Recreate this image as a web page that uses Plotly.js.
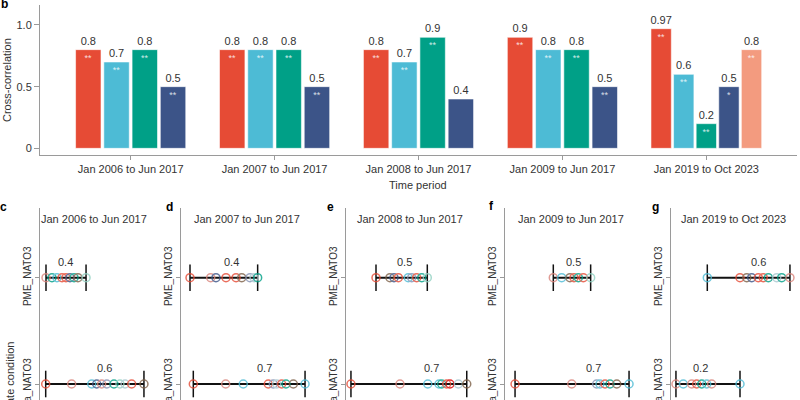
<!DOCTYPE html>
<html><head><meta charset="utf-8">
<script src="https://cdn.plot.ly/plotly-3.0.1.min.js"></script>
<style>html,body{margin:0;padding:0;background:#fff}#chart{width:800px;height:400px}</style>
</head><body><div id="chart"></div>
<script>
// ---------- Panel b: cross-correlation bars ----------
const periods = ['Jan 2006 to Jun 2017','Jan 2007 to Jun 2017','Jan 2008 to Jun 2017','Jan 2009 to Jun 2017','Jan 2019 to Oct 2023'];
const seriesNames = ['Series 1','Series 2','Series 3','Series 4','Series 5'];
const seriesColors = ['#E64B35','#4DBBD5','#00A087','#3C5488','#F39B7F'];
const redVals    = [0.8, 0.8, 0.8, 0.9, 0.97];
const cyanVals   = [0.7, 0.8, 0.7, 0.8, 0.6];
const greenVals  = [0.8, 0.8, 0.9, 0.8, 0.2];
const navyVals   = [0.5, 0.5, 0.4, 0.5, 0.5];
const salmonVals = [null, null, null, null, 0.8];
const redSig    = ['**','**','**','**','**'];
const cyanSig   = ['**','**','**','**','**'];
const greenSig  = ['**','**','**','**','**'];
const navySig   = ['**','**','','**','*'];
const salmonSig = ['','','','','**'];
const yTickVals = [0, 0.5, 1];
const yTickText = ['0', '0.5', '1.0'];

// ---------- Panels c-g: per-member correlations ----------
const panelTitles = ['Jan 2006 to Jun 2017','Jan 2007 to Jun 2017','Jan 2008 to Jun 2017','Jan 2009 to Jun 2017','Jan 2019 to Oct 2023'];
const panelLetters = ['c','d','e','f','g'];
const rowNames = ['Ta_NATO3', 'PME_NATO3'];
const pmeValues = [
  [0.04, 0.08, 0.113, 0.147, 0.173, 0.2, 0.227, 0.253, 0.307],
  [0.062, 0.2, 0.235, 0.302, 0.369, 0.407, 0.462, 0.489, 0.513],
  [0.2, 0.293, 0.32, 0.349, 0.415, 0.438, 0.471, 0.505, 0.542],
  [0.322, 0.378, 0.433, 0.46, 0.489, 0.522, 0.571],
  [0.244, 0.462, 0.507, 0.54, 0.584, 0.617, 0.651, 0.707, 0.74, 0.795]
];
const pmeColors = [
  ['S','T','C','R','R','B','T','N','L'],
  ['R','S','B','R','R','N','G','W','T'],
  ['R','N','B','R','C','G','R','T','L'],
  ['S','C','N','R','T','R','L'],
  ['C','R','N','B','R','R','T','W','T','S']
];
const taValues = [
  [0.038, 0.211, 0.345, 0.378, 0.411, 0.445, 0.493, 0.533, 0.567, 0.611, 0.693],
  [0.084, 0.3, 0.417, 0.584, 0.617, 0.64, 0.673, 0.702, 0.751, 0.829],
  [0.033, 0.36, 0.545, 0.62, 0.638, 0.671, 0.693, 0.749, 0.805],
  [0.067, 0.445, 0.611, 0.633, 0.667, 0.7, 0.745, 0.827],
  [0.035, 0.084, 0.14, 0.173, 0.207, 0.24, 0.273, 0.462]
];
const taColors = [
  ['R','S','C','B','S','G','T','L','W','R','N'],
  ['R','S','C','R','G','W','R','T','N','C'],
  ['R','S','C','C','T','R','D','W','N'],
  ['R','S','G','C','R','T','N','C'],
  ['S','C','S','R','T','C','S','C']
];
const pmeLabels = ['0.4','0.4','0.5','0.5','0.6'];
const taLabels  = ['0.6','0.7','0.7','0.7','0.2'];

const palette = {R:'#E64B35', S:'#D9837A', C:'#4DBBD5', T:'#00A087', B:'#3C5488',
                 G:'#8491B4', L:'#91D1C2', N:'#7E6148', D:'#DC0000', W:'#A8C8D0'};

const FONT = 'Liberation Sans, Arial, Helvetica, sans-serif';
const TXT = '#333333';
const AXC = '#9a9a9a';
const W = 800, H = 400;
const px = v => v / W;
const py = v => 1 - v / H;

const traces = [];
const barSeries = [redVals, cyanVals, greenVals, navyVals, salmonVals];
const barSig = [redSig, cyanSig, greenSig, navySig, salmonSig];

barSeries.forEach((vals, s) => {
  ['x', 'x2'].forEach(ax => {
    const y = vals.map((v, i) => ((ax === 'x' ? i < 4 : i === 4) ? v : null));
    if (y.every(v => v === null)) return;
    const sig = barSig[s].map((t, i) => (y[i] === null ? '' : t));
    traces.push({
      type: 'bar', name: seriesNames[s], x: periods, y: y, xaxis: ax, yaxis: 'y',
      offsetgroup: 'g' + s,
      marker: {color: seriesColors[s], line: {color: 'rgba(255,255,255,0.7)', width: 0.8}},
      text: y.map(v => (v === null ? '' : String(v))),
      textposition: 'outside', cliponaxis: false, constraintext: 'none',
      textfont: {size: 11, color: TXT, family: FONT},
      hoverinfo: 'skip', showlegend: false
    });
    traces.push({
      type: 'bar', name: seriesNames[s] + ' significance', x: periods, y: y, xaxis: ax, yaxis: 'y',
      offsetgroup: 'g' + s,
      marker: {color: 'rgba(0,0,0,0)', line: {width: 0}},
      text: sig, textposition: 'inside', insidetextanchor: 'end', constraintext: 'none',
      textfont: {size: 9, color: 'rgba(255,255,255,0.8)', family: FONT},
      hoverinfo: 'skip', showlegend: false
    });
  });
});

const layout = {
  width: W, height: H,
  margin: {l: 0, r: 0, t: 0, b: 0},
  paper_bgcolor: '#fff', plot_bgcolor: '#fff',
  font: {family: FONT, color: TXT, size: 11},
  barmode: 'group', bargap: 0.215, bargroupgap: 0.1,
  showlegend: false,
  xaxis: {domain: [px(40), px(797)], type: 'category', categoryorder: 'array', categoryarray: periods,
          range: [-0.63, 4.63], anchor: 'y', showline: true, linecolor: AXC, linewidth: 1,
          ticks: 'outside', ticklen: 4, tickcolor: AXC, tickfont: {size: 11, color: TXT},
          showgrid: false, zeroline: false, fixedrange: true},
  xaxis2: {domain: [px(40), px(797)], type: 'category', categoryorder: 'array', categoryarray: periods,
           range: [-0.63, 4.63], overlaying: 'x', anchor: 'y', visible: false, fixedrange: true},
  yaxis: {domain: [py(155), py(5)], range: [-0.054, 1.162], anchor: 'x', showline: true,
          linecolor: AXC, linewidth: 1, ticks: 'outside', ticklen: 5, tickcolor: AXC,
          tickvals: yTickVals, ticktext: yTickText, tickfont: {size: 11, color: TXT},
          showgrid: false, zeroline: false, fixedrange: true},
  annotations: []
};

const ann = layout.annotations;
ann.push({xref: 'paper', yref: 'paper', x: px(4), y: py(4), text: '<b>b</b>', showarrow: false,
          font: {size: 12, color: '#000'}, xanchor: 'center', yanchor: 'middle'});
ann.push({xref: 'paper', yref: 'paper', x: px(7), y: py(80), text: 'Cross-correlation', textangle: -90,
          showarrow: false, font: {size: 11, color: TXT}, xanchor: 'center', yanchor: 'middle'});
ann.push({xref: 'paper', yref: 'paper', x: px(418.5), y: py(185), text: 'Time period',
          showarrow: false, font: {size: 11, color: TXT}, xanchor: 'center', yanchor: 'middle'});
ann.push({xref: 'paper', yref: 'paper', x: px(10), y: py(384), text: 'Climate condition', textangle: -90,
          showarrow: false, font: {size: 11, color: TXT}, xanchor: 'center', yanchor: 'middle'});

const panelDomains = [[40, 175], [180.7, 340], [346, 500], [505, 665], [670.7, 797]];
const letterPos = [[3.5, 207], [169, 206.5], [330.5, 207], [491.5, 206], [655, 207]];
const titleCenters = [94, 247, 409.7, 571, 733.4];
const pxPerUnit = 150;

panelTitles.forEach((title, p) => {
  const xa = 'x' + (3 + p), ya = 'y' + (2 + p);
  const d = panelDomains[p];
  layout['xaxis' + (3 + p)] = {domain: [px(d[0]), px(d[1])], range: [0, (d[1] - d[0]) / pxPerUnit],
                                anchor: ya, visible: false, fixedrange: true};
  layout['yaxis' + (2 + p)] = {domain: [0, py(208)], range: [-0.1505, 1.656], anchor: xa,
                                showline: true, linecolor: AXC, linewidth: 1, ticks: 'outside', ticklen: 4,
                                tickcolor: AXC, tickvals: [0, 1], ticktext: rowNames, tickangle: -90,
                                ticklabeloverflow: 'allow',
                                tickfont: {size: 10, color: TXT}, showgrid: false, zeroline: false, fixedrange: true};
  const rows = [
    {vals: taValues[p], cols: taColors[p], label: taLabels[p], r: 0},
    {vals: pmeValues[p], cols: pmeColors[p], label: pmeLabels[p], r: 1}
  ];
  rows.forEach(row => {
    const lo = Math.min(...row.vals), hi = Math.max(...row.vals);
    traces.push({type: 'scatter', mode: 'lines+markers', x: [lo, hi], y: [row.r, row.r], xaxis: xa, yaxis: ya,
                 line: {color: '#111', width: 2},
                 marker: {symbol: 'line-ns-open', size: 19, color: '#111', line: {color: '#111', width: 1.5}},
                 cliponaxis: false, hoverinfo: 'skip', showlegend: false});
    traces.push({type: 'scatter', mode: 'markers', x: row.vals, y: row.vals.map(() => row.r), xaxis: xa, yaxis: ya,
                 marker: {symbol: 'circle-open', size: 8, color: row.cols.map(c => palette[c]), line: {width: 1.5}},
                 opacity: 0.8, cliponaxis: false, hoverinfo: 'skip', showlegend: false});
    const mean = row.vals.reduce((a, b) => a + b, 0) / row.vals.length;
    ann.push({xref: xa, yref: ya, x: mean, y: row.r, yshift: 16, text: row.label, showarrow: false,
              font: {size: 11, color: TXT}, xanchor: 'center', yanchor: 'middle'});
  });
  ann.push({xref: 'paper', yref: 'paper', x: px(titleCenters[p]), y: py(219), text: title, showarrow: false,
            font: {size: 11, color: TXT}, xanchor: 'center', yanchor: 'middle'});
  ann.push({xref: 'paper', yref: 'paper', x: px(letterPos[p][0]), y: py(letterPos[p][1]),
            text: '<b>' + panelLetters[p] + '</b>', showarrow: false,
            font: {size: 12, color: '#000'}, xanchor: 'center', yanchor: 'middle'});
});

Plotly.newPlot('chart', traces, layout, {displayModeBar: false, staticPlot: true});
</script>
</body></html>
